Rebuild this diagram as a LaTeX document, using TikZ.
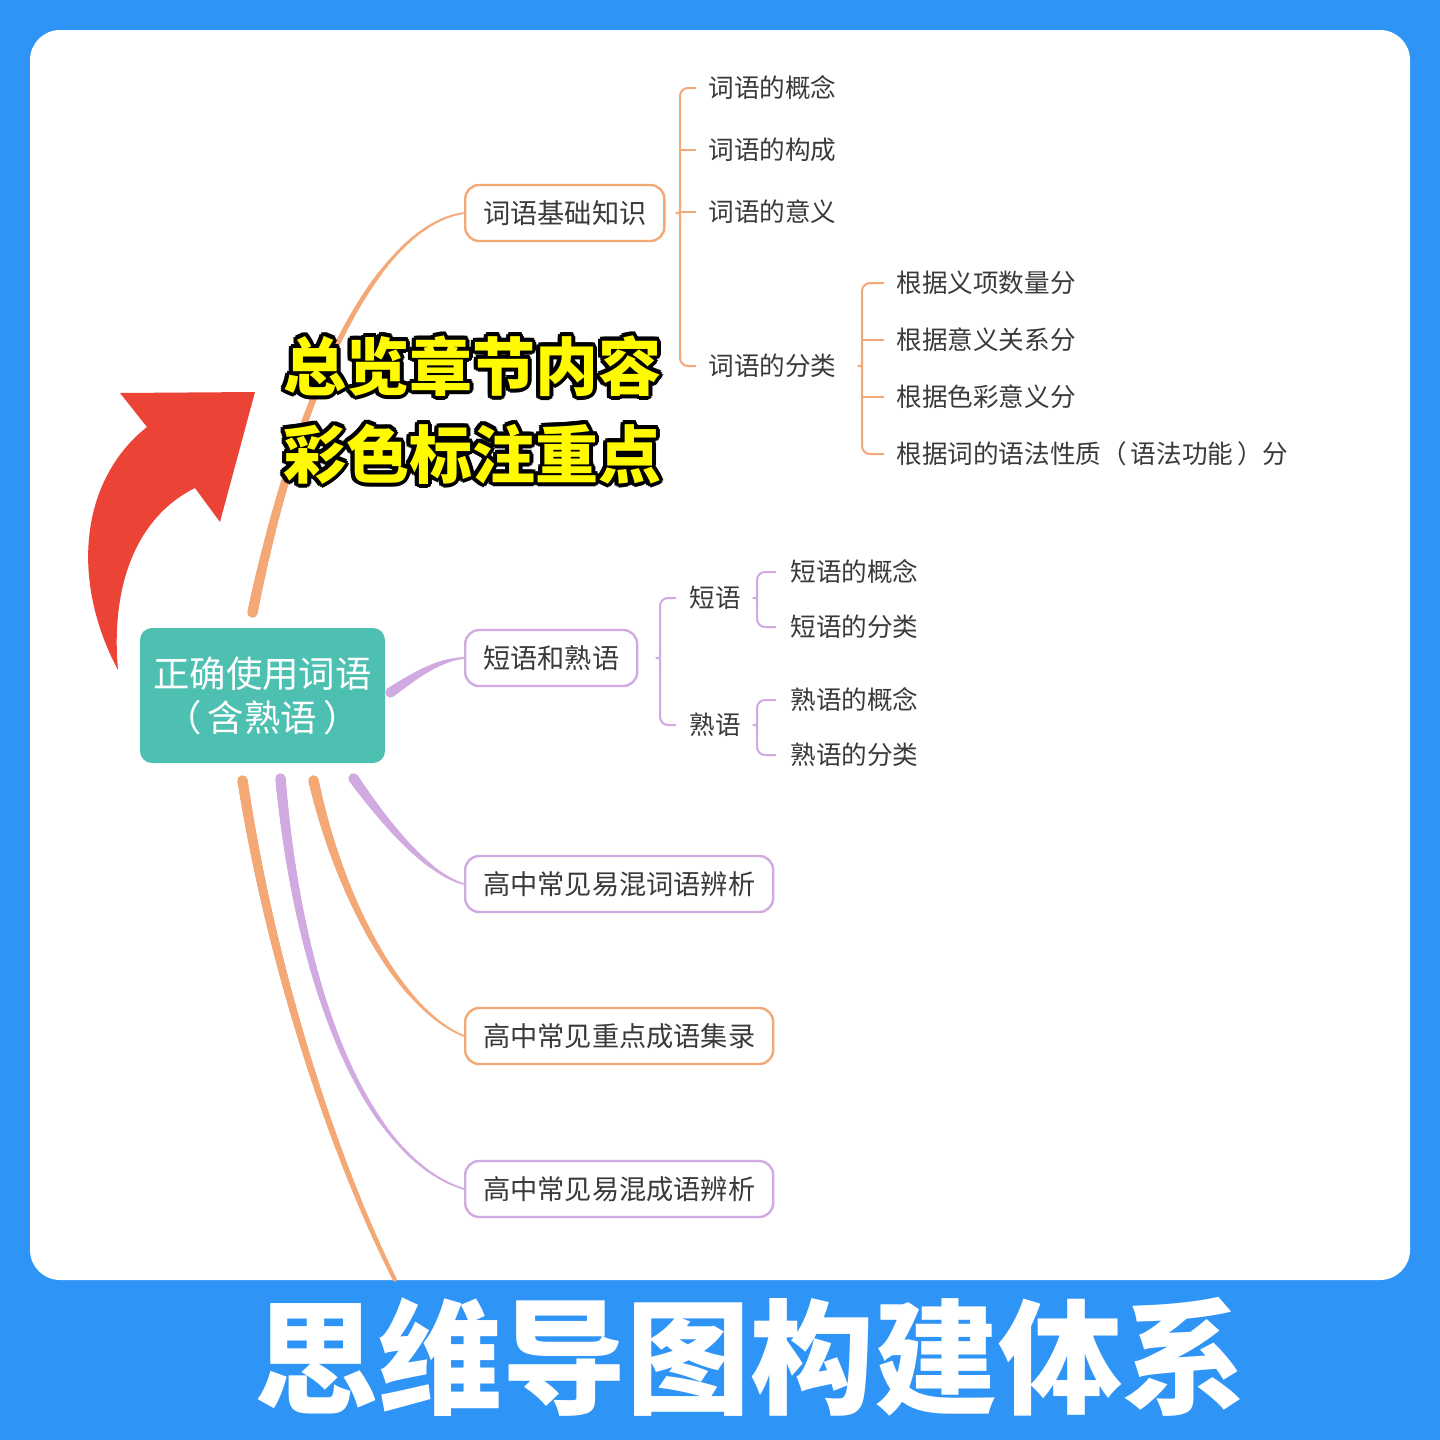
\documentclass[tikz,border=0pt]{standalone}
\usepackage{fontspec}
\setmainfont{Noto Sans CJK SC}
\usetikzlibrary{calc}
\usetikzlibrary{decorations.markings}

\definecolor{bluebg}{RGB}{46,148,245}
\definecolor{ora}{RGB}{243,168,118}
\definecolor{lil}{RGB}{208,170,224}
\definecolor{teal2}{RGB}{78,192,177}
\definecolor{redarr}{RGB}{236,67,55}
\definecolor{hlyellow}{RGB}{255,250,0}
\definecolor{txt}{RGB}{58,58,58}

\tikzset{
  box/.style={draw=#1, line width=1.2pt, rounded corners=7pt, fill=white, text=txt,
    inner xsep=9pt, inner ysep=0pt, minimum height=28pt, anchor=west,
    font=\fontsize{13.6}{16}\selectfont},
  leaf/.style={anchor=west, inner sep=0pt, text=txt, font=\fontsize{12.8}{15}\selectfont},
  br/.style={draw=#1, line width=1pt, rounded corners=4pt},
  hl/.style={inner sep=0pt, font=\bfseries\fontsize{31.5}{32}\selectfont},
  twig/.style 2 args={postaction={decorate, decoration={markings,
      mark=between positions 0 and 1 step 0.5pt with {\fill[#1] (0,0) circle
        ({2.6pt-(2.6pt-#2)*\pgfkeysvalueof{/pgf/decoration/mark info/distance from start}/\pgfdecoratedpathlength});}}}},
}

\begin{document}
\begin{tikzpicture}[x=0.5pt,y=-0.5pt]
    \useasboundingbox (0,0) rectangle (1440,1440);
    \fill[bluebg] (0,0) rectangle (1440,1440);
    \fill[white, rounded corners=15pt] (30,30) rectangle (1410,1280);

    % centre topic and first level
    \node[fill=teal2, rounded corners=6pt, minimum width=122.5pt, minimum height=67.5pt,
      text=white, align=center, font=\fontsize{18.2}{22}\selectfont] (root) at (262.5,695.5)
      {正确使用词语\\（\hspace{3pt}含熟语\hspace{3pt}）};
    \node[box=ora] (kw) at (464,213) {词语基础知识};
    \node[box=lil] (dy) at (464,658) {短语和熟语};
    \node[box=lil] (hx1) at (464,884) {高中常见易混词语辨析};
    \node[box=ora] (hx2) at (464,1036) {高中常见重点成语集录};
    \node[box=lil] (hx3) at (464,1189) {高中常见易混成语辨析};

    % leaves
    \node[leaf] (c1) at (708,88) {词语的概念};
    \node[leaf] (c2) at (708,150) {词语的构成};
    \node[leaf] (c3) at (708,212) {词语的意义};
    \node[leaf] (c4) at (708,366) {词语的分类};
    \node[leaf] (d1) at (896,283) {根据义项数量分};
    \node[leaf] (d2) at (896,340) {根据意义关系分};
    \node[leaf] (d3) at (896,397) {根据色彩意义分};
    \node[leaf] (d4) at (896,454) {根据词的语法性质（\hspace{2pt}语法功能\hspace{2pt}）分};
    \node[leaf] (e1) at (689,598) {短语};
    \node[leaf] (e2) at (689,725) {熟语};
    \node[leaf] (f1) at (790,572) {短语的概念};
    \node[leaf] (f2) at (790,627) {短语的分类};
    \node[leaf] (g1) at (790,700) {熟语的概念};
    \node[leaf] (g2) at (790,755) {熟语的分类};

    % branch roots
    \coordinate (r1) at ($(root.north)+(-10,-15)$);
    \coordinate (r2) at ($(root.east)+(5,-3)$);
    \coordinate (r3) at ($(root.south)+(-20,17)$);
    \coordinate (r4) at ($(root.south)+(18,15)$);
    \coordinate (r5) at ($(root.south)+(51,17)$);
    \coordinate (r6) at ($(root.south)+(91,15)$);
    \coordinate (cut) at (395,1280);

    \path[twig={ora}{0.5pt}] (r1) .. controls (300,380) and (380,225) .. (kw.west);
    \path[twig={lil}{0.5pt}] (r2) .. controls (420,672) and (440,660) .. (dy.west);
    \path[twig={ora}{1pt}] (r3) .. controls (270,960) and (330,1150) .. (cut);
    \path[twig={lil}{0.5pt}] (r4) .. controls (300,1000) and (370,1160) .. (hx3.west);
    \path[twig={ora}{0.5pt}] (r5) .. controls (340,900) and (400,1010) .. (hx2.west);
    \path[twig={lil}{0.5pt}] (r6) .. controls (390,830) and (430,875) .. (hx1.west);

    % brackets
    \coordinate (v1) at ([xshift=-14pt]c1.west);
    \coordinate (t1) at (v1 |- kw.east);
    \draw[br=ora] ([xshift=-6pt]c1.west) -| ([xshift=-14pt]c4.west) -- ([xshift=-6pt]c4.west);
    \draw[br=ora] ([xshift=-14pt]c2.west) -- ([xshift=-6pt]c2.west);
    \draw[br=ora] ([xshift=-14pt]c3.west) -- ([xshift=-6pt]c3.west);
    \draw[br=ora] ([yshift=4pt]t1) .. controls (t1) .. ([xshift=-4.5pt]t1) .. controls (t1) .. ([yshift=-4pt]t1);

    \coordinate (v2) at ([xshift=-17pt]d1.west);
    \coordinate (t2) at (v2 |- c4.east);
    \draw[br=ora] ([xshift=-6pt]d1.west) -| ([xshift=-17pt]d4.west) -- ([xshift=-6pt]d4.west);
    \draw[br=ora] ([xshift=-17pt]d2.west) -- ([xshift=-6pt]d2.west);
    \draw[br=ora] ([xshift=-17pt]d3.west) -- ([xshift=-6pt]d3.west);
    \draw[br=ora] ([yshift=4pt]t2) .. controls (t2) .. ([xshift=-4.5pt]t2) .. controls (t2) .. ([yshift=-4pt]t2);

    \coordinate (v3) at ([xshift=-14.5pt]e1.west);
    \coordinate (t3) at (v3 |- dy.east);
    \draw[br=lil] ([xshift=-6.5pt]e1.west) -| ([xshift=-14.5pt]e2.west) -- ([xshift=-6.5pt]e2.west);
    \draw[br=lil] ([yshift=4pt]t3) .. controls (t3) .. ([xshift=-4.5pt]t3) .. controls (t3) .. ([yshift=-4pt]t3);

    \coordinate (v4) at ([xshift=-16.5pt]f1.west);
    \coordinate (t4) at (v4 |- e1.east);
    \draw[br=lil] ([xshift=-7pt]f1.west) -| ([xshift=-16.5pt]f2.west) -- ([xshift=-7pt]f2.west);
    \draw[br=lil] ([yshift=4pt]t4) .. controls (t4) .. ([xshift=-4.5pt]t4) .. controls (t4) .. ([yshift=-4pt]t4);

    \coordinate (v5) at ([xshift=-16.5pt]g1.west);
    \coordinate (t5) at (v5 |- e2.east);
    \draw[br=lil] ([xshift=-7pt]g1.west) -| ([xshift=-16.5pt]g2.west) -- ([xshift=-7pt]g2.west);
    \draw[br=lil] ([yshift=4pt]t5) .. controls (t5) .. ([xshift=-4.5pt]t5) .. controls (t5) .. ([yshift=-4pt]t5);

    % red arrow
    \fill[redarr] (120,393) -- (255,392) -- (220,522) -- (195,488)
      .. controls (140,515) and (110,580) .. (118,670)
      .. controls (70,580) and (80,480) .. (147,427) -- cycle;

    % highlighted caption
    \foreach \a in {0,30,...,330} {
      \node[hl, text=black] at ($(472,366)+(\a:4)$) {总览章节内容};
      \node[hl, text=black] at ($(472,454)+(\a:4)$) {彩色标注重点};
    }
    \node[hl, text=hlyellow] (hl1) at (472,366) {总览章节内容};
    \node[hl, text=hlyellow] (hl2) at (472,454) {彩色标注重点};

    % title
    \node[text=white, font=\bfseries\fontsize{62}{62}\selectfont] (ttl) at (750,1357) {思维导图构建体系};
\end{tikzpicture}
\end{document}
